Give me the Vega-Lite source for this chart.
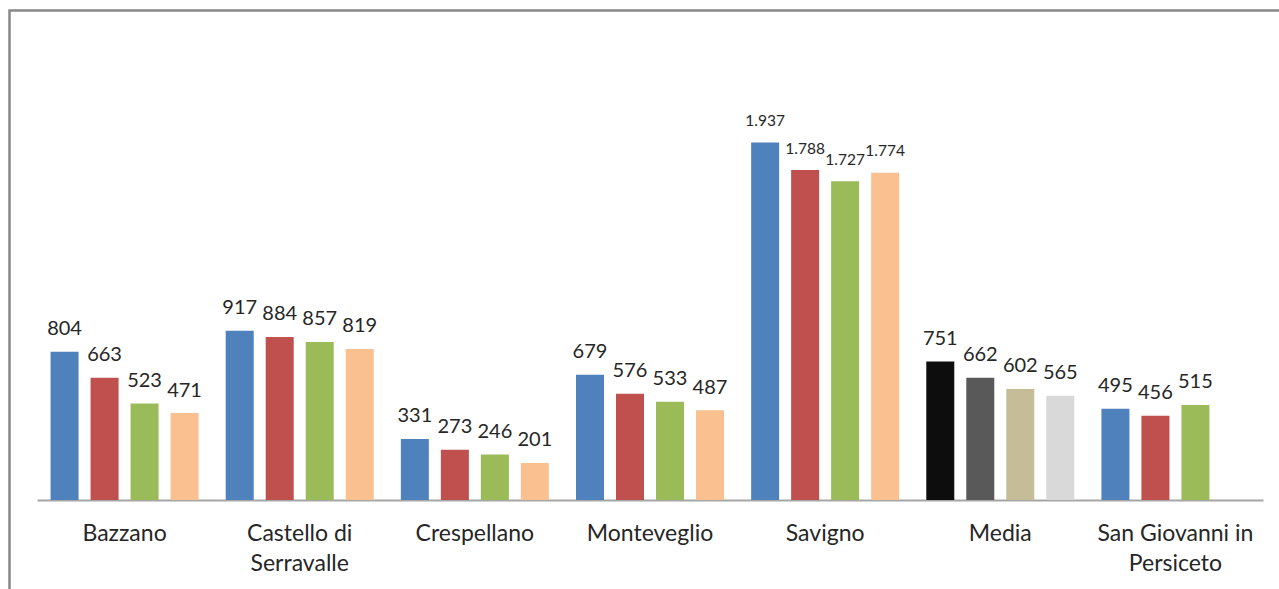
{
  "$schema": "https://vega.github.io/schema/vega-lite/v6.json",
  "autosize": {"type": "none"},
  "padding": {"left": 9.5, "top": 10.5, "right": -5, "bottom": -5},
  "width": 1274.5,
  "height": 583.5,
  "background": "white",
  "config": {
    "font": "Lato",
    "view": {"stroke": "#888888", "strokeWidth": 2.5},
    "locale": {"number": {"decimal": ",", "thousands": ".", "grouping": [3], "currency": ["€", ""]}}
  },
  "data": {
    "values": [
      {"comune": "Bazzano", "serie": 1, "gruppo": "A1", "valore": 804},
      {"comune": "Bazzano", "serie": 2, "gruppo": "A2", "valore": 663},
      {"comune": "Bazzano", "serie": 3, "gruppo": "A3", "valore": 523},
      {"comune": "Bazzano", "serie": 4, "gruppo": "A4", "valore": 471},
      {"comune": "Castello di Serravalle", "serie": 1, "gruppo": "A1", "valore": 917},
      {"comune": "Castello di Serravalle", "serie": 2, "gruppo": "A2", "valore": 884},
      {"comune": "Castello di Serravalle", "serie": 3, "gruppo": "A3", "valore": 857},
      {"comune": "Castello di Serravalle", "serie": 4, "gruppo": "A4", "valore": 819},
      {"comune": "Crespellano", "serie": 1, "gruppo": "A1", "valore": 331},
      {"comune": "Crespellano", "serie": 2, "gruppo": "A2", "valore": 273},
      {"comune": "Crespellano", "serie": 3, "gruppo": "A3", "valore": 246},
      {"comune": "Crespellano", "serie": 4, "gruppo": "A4", "valore": 201},
      {"comune": "Monteveglio", "serie": 1, "gruppo": "A1", "valore": 679},
      {"comune": "Monteveglio", "serie": 2, "gruppo": "A2", "valore": 576},
      {"comune": "Monteveglio", "serie": 3, "gruppo": "A3", "valore": 533},
      {"comune": "Monteveglio", "serie": 4, "gruppo": "A4", "valore": 487},
      {"comune": "Savigno", "serie": 1, "gruppo": "A1", "valore": 1937},
      {"comune": "Savigno", "serie": 2, "gruppo": "A2", "valore": 1788},
      {"comune": "Savigno", "serie": 3, "gruppo": "A3", "valore": 1727},
      {"comune": "Savigno", "serie": 4, "gruppo": "A4", "valore": 1774},
      {"comune": "Media", "serie": 1, "gruppo": "M1", "valore": 751},
      {"comune": "Media", "serie": 2, "gruppo": "M2", "valore": 662},
      {"comune": "Media", "serie": 3, "gruppo": "M3", "valore": 602},
      {"comune": "Media", "serie": 4, "gruppo": "M4", "valore": 565},
      {"comune": "San Giovanni in Persiceto", "serie": 1, "gruppo": "A1", "valore": 495},
      {"comune": "San Giovanni in Persiceto", "serie": 2, "gruppo": "A2", "valore": 456},
      {"comune": "San Giovanni in Persiceto", "serie": 3, "gruppo": "A3", "valore": 515}
    ]
  },
  "encoding": {
    "x": {
      "field": "comune",
      "type": "nominal",
      "sort": null,
      "scale": {"range": [27.5, 1253.5], "paddingInner": 0.0865, "paddingOuter": 0.04325},
      "axis": {
        "title": null,
        "orient": "bottom",
        "offset": -94,
        "ticks": false,
        "domainColor": "#a6a6a6",
        "domainWidth": 2,
        "labelAngle": 0,
        "labelFontSize": 23,
        "labelColor": "#262626",
        "labelPadding": 22.5,
        "labelLineHeight": 30,
        "labelBaseline": "top",
        "labelExpr": "datum.value == 'Castello di Serravalle' ? ['Castello di', 'Serravalle'] : datum.value == 'San Giovanni in Persiceto' ? ['San Giovanni in', 'Persiceto'] : datum.value"
      }
    },
    "xOffset": {
      "field": "serie",
      "type": "ordinal",
      "scale": {"domain": [1, 2, 3, 4], "paddingInner": 0.3, "paddingOuter": 0.15}
    },
    "y": {
      "field": "valore",
      "type": "quantitative",
      "scale": {"domain": [0, 2653], "range": [489.5, 0], "nice": false, "zero": true},
      "axis": null
    }
  },
  "layer": [
    {
      "mark": {"type": "bar"},
      "encoding": {
        "color": {
          "field": "gruppo",
          "type": "nominal",
          "scale": {
            "domain": ["A1", "A2", "A3", "A4", "M1", "M2", "M3", "M4"],
            "range": ["#4f81bd", "#c0504d", "#9bbb59", "#fac090", "#0d0d0d", "#595959", "#c4bd97", "#d9d9d9"]
          },
          "legend": null
        }
      }
    },
    {
      "mark": {"type": "text", "baseline": "alphabetic", "dy": -16.5, "color": "#262626"},
      "encoding": {
        "text": {"field": "valore", "type": "quantitative", "format": ",d"},
        "size": {"condition": {"test": "datum.valore >= 1000", "value": 15.5}, "value": 20}
      }
    }
  ]
}
